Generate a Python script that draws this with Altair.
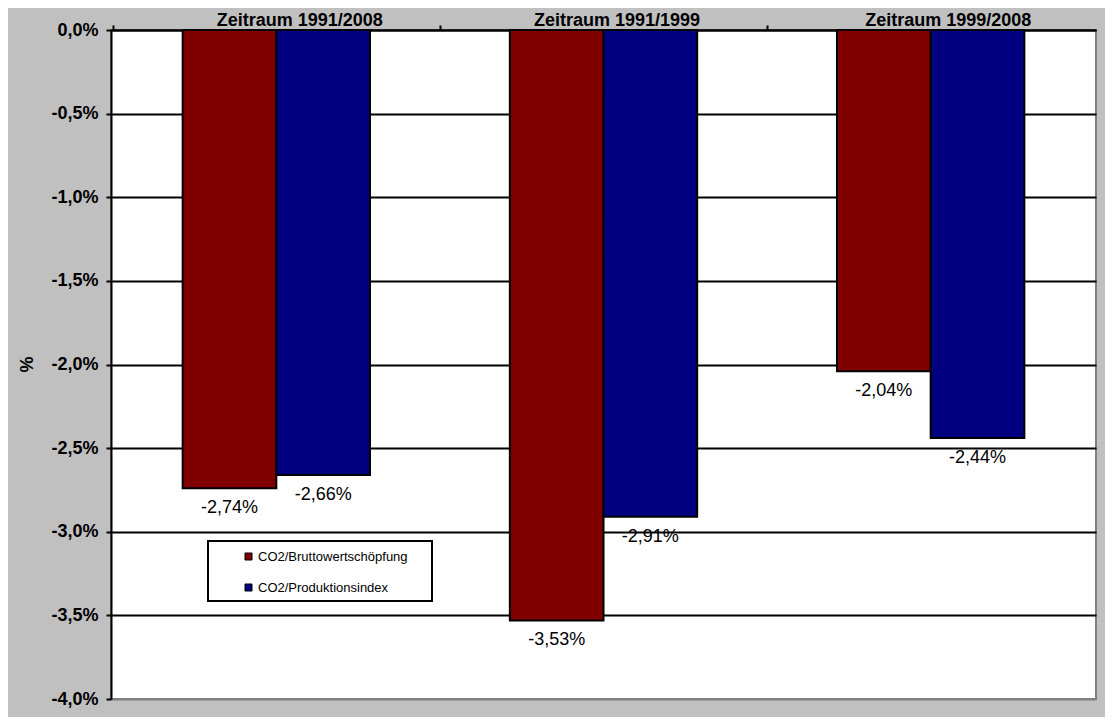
import altair as alt
import pandas as pd

periods = ["Zeitraum 1991/2008", "Zeitraum 1991/1999", "Zeitraum 1999/2008"]
series = ["CO2/Bruttowertschöpfung", "CO2/Produktionsindex"]
brutto = [-2.74, -3.53, -2.04]
produktion = [-2.66, -2.91, -2.44]
y_ticks = [0, -0.5, -1.0, -1.5, -2.0, -2.5, -3.0, -3.5, -4.0]
colors = ["#800000", "#000080"]

rows = []
for i, p in enumerate(periods):
    rows.append({"period": p, "series": series[0], "value": brutto[i]})
    rows.append({"period": p, "series": series[1], "value": produktion[i]})
df = pd.DataFrame(rows)

FONT = "Liberation Sans"
label_expr = "(datum.value < 0 ? '-' : '') + replace(format(abs(datum.value), '.1f'), '.', ',') + '%'"

# ticks are moved back half a step onto the category boundaries; labels moved forward again
label_shift = {
    "condition": [
        {"test": f"datum.value == '{periods[0]}'", "value": 186.6},
        {"test": f"datum.value == '{periods[1]}'", "value": 176.6},
    ],
    "value": 180.6,
}

x = alt.X(
    "period:N", sort=periods,
    scale=alt.Scale(paddingInner=0.4274, paddingOuter=0.219),
    axis=alt.Axis(orient="top", title=None, labelAngle=0, tickOffset=-163.6, ticks=True,
                  tickSize=5, tickWidth=2, tickColor="black", domainColor="black", domainWidth=2,
                  labelFont=FONT, labelFontSize=18, labelFontWeight="bold", labelColor="black",
                  labelPadding=-4, labelOffset=label_shift, labelAlign="center", grid=False),
)
y = alt.Y(
    "value:Q",
    scale=alt.Scale(domain=[-4, 0], nice=False, zero=False),
    axis=alt.Axis(title="%", values=y_ticks, labelExpr=label_expr,
                  labelFont=FONT, labelFontSize=18, labelFontWeight="bold", labelColor="black",
                  labelPadding=8, tickSize=5, tickWidth=2, tickColor="black",
                  domainColor="black", domainWidth=2,
                  grid=True, gridWidth=2,
                  gridColor=alt.condition("datum.value <= -3.99", alt.value("#808080"), alt.value("black")),
                  titleFont=FONT, titleFontSize=18, titleFontWeight="bold", titleColor="black",
                  titleX=-84, titleY=334, titleBaseline="middle", titleAlign="center"),
)
xo = alt.XOffset("series:N", sort=series, scale=alt.Scale(paddingInner=0, paddingOuter=0))

bars = alt.Chart(df).mark_bar(stroke="black", strokeWidth=2).encode(
    x=x, y=y, xOffset=xo,
    color=alt.Color("series:N", sort=series, scale=alt.Scale(domain=series, range=colors),
                    legend=alt.Legend(orient="none", legendX=131, legendY=520, title=None,
                                      labelFont=FONT, labelFontSize=13, labelColor="black",
                                      symbolType="square", symbolSize=49, symbolStrokeColor="black",
                                      symbolStrokeWidth=1, rowPadding=17, labelOffset=3, padding=0)),
)

texts = alt.Chart(df).transform_calculate(
    label="'-' + replace(format(abs(datum.value), '.2f'), '.', ',') + '%'"
).mark_text(baseline="top", dy=11, fontSize=18, font=FONT, color="black").encode(
    x=x, y=y, xOffset=xo, text="label:N"
)

box = alt.Chart(pd.DataFrame({"k": [0]})).mark_rect(fill="white", stroke="black", strokeWidth=2).encode(
    x=alt.value(97), x2=alt.value(321), y=alt.value(511), y2=alt.value(571)
)

chart = alt.layer(bars, texts, box).properties(
    width=985, height=669,
    background="#C0C0C0",
    padding={"left": 103, "top": 22, "right": 9, "bottom": 18},
    autosize="none",
).configure_view(fill="white", stroke="#808080", strokeWidth=2)

chart.save("out.html", embed_options={"renderer": "svg", "actions": False})
